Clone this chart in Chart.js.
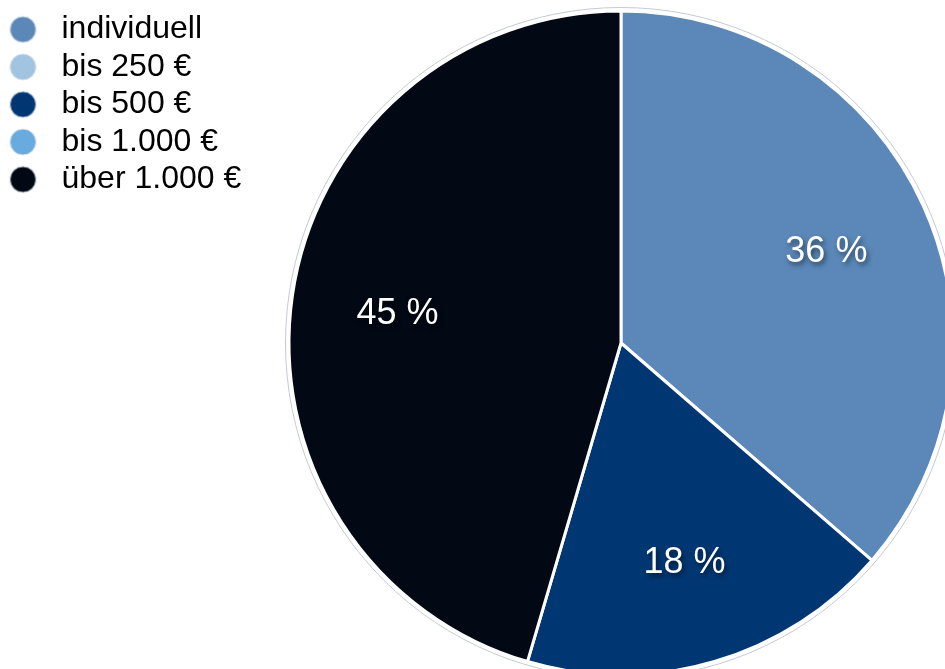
<!DOCTYPE html>
<html>
<head>
<meta charset="utf-8">
<script src="https://cdn.jsdelivr.net/npm/chart.js@4/dist/chart.umd.min.js"></script>
<style>
html, body { margin: 0; padding: 0; background: #fff; }
#wrap { position: relative; width: 945px; height: 669px; }
</style>
</head>
<body>
<div id="wrap"><canvas id="myChart"></canvas></div>
<script>
// Budget categories and number of answers per category
const categories = ["individuell", "bis 250 €", "bis 500 €", "bis 1.000 €", "über 1.000 €"];
const counts = [4, 0, 2, 0, 5];
const sliceColors = ["#5b88b9", "#a3c4e1", "#003773", "#6aabdf", "#020814"];

const total = counts.reduce((a, b) => a + b, 0);

// round legend dot, drawn left-aligned inside a wider box so the text sits further right
function legendDot(color) {
    const c = document.createElement("canvas");
    c.width = 40;
    c.height = 30;
    const g = c.getContext("2d");
    g.beginPath();
    g.arc(17.5, 15, 13, 0, Math.PI * 2);
    g.fillStyle = color;
    g.fill();
    g.lineWidth = 1;
    g.strokeStyle = "#dde3ea";
    g.stroke();
    return c;
}

// pie is bigger than the canvas, so place it by hand after layout
const placePie = {
    id: "placePie",
    afterLayout(chart) {
        Object.assign(chart.chartArea, {
            left: 297, right: 945, top: 11, bottom: 675, width: 648, height: 664
        });
    }
};

// thin grey ring around the pie
const outerRing = {
    id: "outerRing",
    afterDatasetsDraw(chart) {
        const arc = chart.getDatasetMeta(0).data[0];
        const p = arc.getProps(["x", "y", "outerRadius"]);
        const ctx = chart.ctx;
        ctx.save();
        ctx.beginPath();
        ctx.arc(p.x, p.y, p.outerRadius + 3.5, 0, Math.PI * 2);
        ctx.lineWidth = 1;
        ctx.strokeStyle = "#c3cad5";
        ctx.stroke();
        ctx.restore();
    }
};

// percent labels inside the slices
const pctLabels = {
    id: "pctLabels",
    afterDatasetsDraw(chart) {
        const ctx = chart.ctx;
        const meta = chart.getDatasetMeta(0);
        meta.data.forEach(function (arc, i) {
            if (!counts[i]) return;
            const p = arc.getProps(["x", "y", "startAngle", "endAngle", "outerRadius"]);
            const mid = (p.startAngle + p.endAngle) / 2;
            const d = p.outerRadius * 0.68;
            const txt = Math.round(counts[i] / total * 100) + " %";
            ctx.save();
            ctx.font = "36px 'Liberation Sans', Arial, sans-serif";
            ctx.textAlign = "center";
            ctx.textBaseline = "middle";
            ctx.shadowColor = "rgba(0, 0, 0, 0.55)";
            ctx.shadowBlur = 5;
            ctx.shadowOffsetX = 2;
            ctx.shadowOffsetY = 3;
            ctx.fillStyle = "#ffffff";
            ctx.fillText(txt, p.x + Math.cos(mid) * d, p.y + Math.sin(mid) * d + 3);
            ctx.restore();
        });
    }
};

Chart.defaults.font.family = "'Liberation Sans', Arial, sans-serif";

const myChart = new Chart(document.getElementById("myChart"), {
    type: "pie",
    data: {
        labels: categories,
        datasets: [{
            data: counts,
            backgroundColor: sliceColors,
            borderColor: "#ffffff",
            borderWidth: 3,
            clip: false
        }]
    },
    options: {
        responsive: true,
        maintainAspectRatio: false,
        animation: false,
        radius: 332,
        layout: { padding: { top: 8, left: 0 } },
        plugins: {
            tooltip: { enabled: false },
            legend: {
                position: "left",
                align: "start",
                labels: {
                    color: "#000000",
                    font: { size: 32 },
                    padding: 5.5,
                    usePointStyle: true,
                    pointStyleWidth: 40,
                    generateLabels(chart) {
                        const items = Chart.controllers.pie.overrides.plugins.legend.labels.generateLabels(chart);
                        items.forEach(function (item, i) {
                            item.pointStyle = legendDot(sliceColors[i]);
                        });
                        return items;
                    }
                }
            }
        }
    },
    plugins: [placePie, outerRing, pctLabels]
});
</script>
</body>
</html>
